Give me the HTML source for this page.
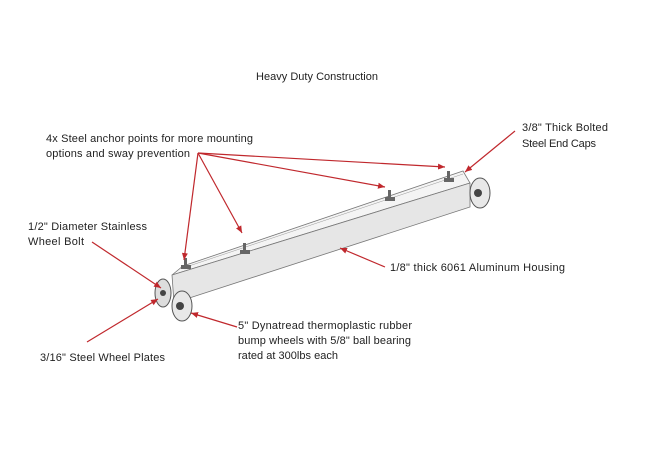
<!DOCTYPE html>
<html><head><meta charset="utf-8"><style>
html,body{margin:0;padding:0;background:#fff;width:650px;height:465px;overflow:hidden}
svg{display:block}
text{font-family:"Liberation Sans",sans-serif;font-size:11px;fill:#222}
</style></head><body>
<svg width="650" height="465" viewBox="0 0 650 465">
<defs><marker id="a" markerWidth="8" markerHeight="8" refX="7" refY="4" orient="auto" markerUnits="userSpaceOnUse"><path d="M0,1 L7,4 L0,7 Z" fill="#c0282d"/></marker></defs>
<text x="256" y="80" textLength="122">Heavy Duty Construction</text>
<text x="46" y="142" textLength="207">4x Steel anchor points for more mounting</text>
<text x="46" y="157" textLength="144">options and sway prevention</text>
<text x="522" y="131" textLength="86">3/8" Thick Bolted</text>
<text x="522" y="147" textLength="74">Steel End Caps</text>
<text x="28" y="230" textLength="119">1/2" Diameter Stainless</text>
<text x="28" y="245" textLength="56">Wheel Bolt</text>
<text x="390" y="271" textLength="175">1/8" thick 6061 Aluminum Housing</text>
<text x="238" y="329" textLength="174">5" Dynatread thermoplastic rubber</text>
<text x="238" y="344" textLength="173">bump wheels with 5/8" ball bearing</text>
<text x="238" y="359" textLength="100">rated at 300lbs each</text>
<text x="40" y="361" textLength="125">3/16" Steel Wheel Plates</text>
<!-- beam -->
<polygon points="172,275 183,266 463,171 470,183" fill="#f4f4f4" stroke="#777" stroke-width="0.8"/>
<polygon points="172,275 470,183 470,207 174,303" fill="#e6e6e6" stroke="#777" stroke-width="0.8"/>
<line x1="183" y1="268" x2="463" y2="174" stroke="#999" stroke-width="0.5"/>
<!-- anchors -->
<g fill="#666"><rect x="181" y="265" width="10" height="4"/><rect x="184" y="258" width="3" height="8"/>
<rect x="240" y="250" width="10" height="4"/><rect x="243" y="243" width="3" height="8"/>
<rect x="385" y="197" width="10" height="4"/><rect x="388" y="190" width="3" height="8"/>
<rect x="444" y="178" width="10" height="4"/><rect x="447" y="171" width="3" height="8"/></g>
<!-- wheels -->
<ellipse cx="163" cy="293" rx="8" ry="14" fill="#ddd" stroke="#555"/>
<circle cx="163" cy="293" r="3" fill="#444"/>
<ellipse cx="182" cy="306" rx="10" ry="15" fill="#e8e8e8" stroke="#555"/>
<circle cx="180" cy="306" r="4" fill="#444"/>
<ellipse cx="480" cy="193" rx="10" ry="15" fill="#e8e8e8" stroke="#555"/>
<circle cx="478" cy="193" r="4" fill="#444"/>
<!-- leaders -->
<g stroke="#c0282d" stroke-width="1.2" marker-end="url(#a)">
<line x1="198" y1="153" x2="184" y2="260"/>
<line x1="198" y1="153" x2="242" y2="233"/>
<line x1="198" y1="153" x2="385" y2="187"/>
<line x1="198" y1="153" x2="445" y2="167"/>
<line x1="515" y1="131" x2="465" y2="172"/>
<line x1="385" y1="267" x2="340" y2="248"/>
<line x1="92" y1="242" x2="161" y2="288"/>
<line x1="87" y1="342" x2="158" y2="299"/>
<line x1="237" y1="327" x2="191" y2="313"/>
</g>
</svg>
</body></html>
